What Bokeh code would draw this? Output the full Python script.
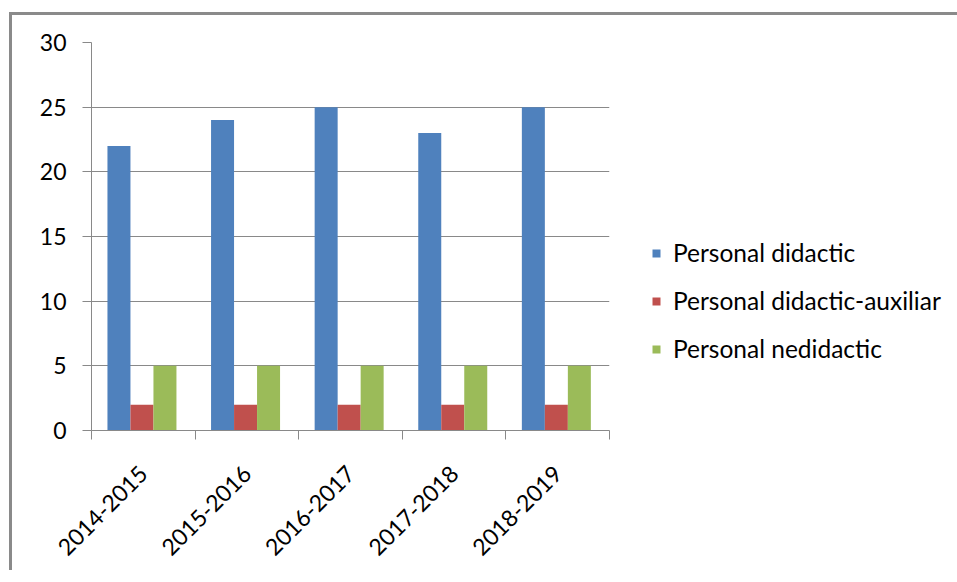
from bokeh.plotting import figure
from bokeh.models import ColumnDataSource, FixedTicker, Legend, LegendItem, Range1d
from bokeh.embed import file_html
from bokeh.resources import INLINE

years = ["2014-2015", "2015-2016", "2016-2017", "2017-2018", "2018-2019"]
didactic = [22, 24, 25, 23, 25]
auxiliar = [2, 2, 2, 2, 2]
nedidactic = [5, 5, 5, 5, 5]
series_names = ["Personal didactic", "Personal didactic-auxiliar", "Personal nedidactic"]
series_colors = ["#4F81BD", "#C0504D", "#9BBB59"]
y_ticks = [0, 5, 10, 15, 20, 25, 30]

FONT = "Lato"
GRID = "#898989"
AX_FS = "23px"

p = figure(frame_width=518, frame_height=388, output_backend="svg", toolbar_location=None,
           x_range=Range1d(0, len(years)), y_range=Range1d(0, 30),
           min_border_left=79, min_border_right=0, min_border_top=27, min_border_bottom=140)
p.styles = {"margin-left": "9px", "margin-top": "12px",
            "border-left": "3px solid #8a8a8a", "border-top": "3px solid #8a8a8a"}
p.outline_line_color = None
p.background_fill_color = "white"
p.border_fill_color = "white"

bar_w = 0.222
centers = [i + 0.487 for i in range(len(years))]
renderers = []
for j, (vals, col) in enumerate(zip([didactic, auxiliar, nedidactic], series_colors)):
    src = ColumnDataSource(dict(x=[c + (j - 1) * bar_w for c in centers], top=vals))
    r = p.vbar(x="x", top="top", bottom=0, width=bar_w, source=src,
               fill_color=col, line_color=None)
    renderers.append(r)

# axes
p.xgrid.grid_line_color = None
p.ygrid.grid_line_color = GRID
p.ygrid.grid_line_width = 1
p.yaxis.ticker = FixedTicker(ticks=y_ticks)
p.yaxis.axis_line_color = GRID
p.yaxis.major_tick_line_color = GRID
p.yaxis.major_tick_out = 9
p.yaxis.major_tick_in = 0
p.yaxis.minor_tick_line_color = None
p.yaxis.major_label_standoff = 16
p.yaxis.major_label_text_font = FONT
p.yaxis.major_label_text_font_size = AX_FS
p.yaxis.major_label_text_color = "#000000"

p.xaxis.ticker = FixedTicker(ticks=[i + 0.5 for i in range(len(years))],
                             minor_ticks=list(range(len(years) + 1)))
p.xaxis.major_label_overrides = {i + 0.5: y for i, y in enumerate(years)}
p.xaxis.axis_line_color = GRID
p.xaxis.major_tick_line_color = None
p.xaxis.minor_tick_line_color = GRID
p.xaxis.minor_tick_out = 9
p.xaxis.minor_tick_in = 0
p.xaxis.major_label_orientation = 0.785398
p.xaxis.major_label_standoff = 30
p.xaxis.major_label_text_font = FONT
p.xaxis.major_label_text_font_size = AX_FS
p.xaxis.major_label_text_color = "#000000"

legend = Legend(items=[LegendItem(label=n, renderers=[r]) for n, r in zip(series_names, renderers)],
                location=(42, 67), glyph_width=10, glyph_height=10, label_standoff=12,
                spacing=19, padding=0, margin=0, border_line_color=None,
                background_fill_alpha=0, label_text_font=FONT, label_text_font_size="24.5px",
                label_text_color="#000000")
p.add_layout(legend, "right")

open("out.html", "w").write(file_html(p, INLINE))
